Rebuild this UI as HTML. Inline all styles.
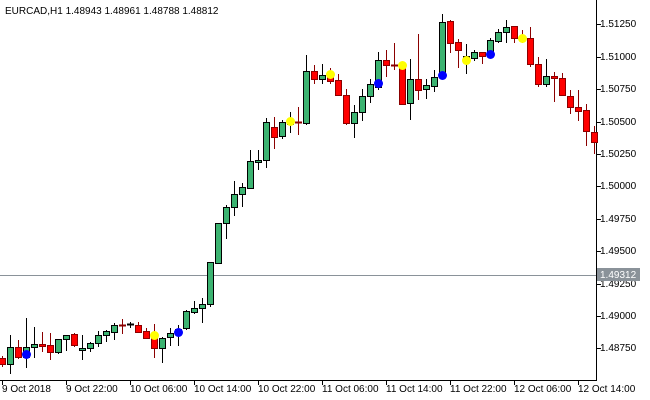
<!DOCTYPE html>
<html><head><meta charset="utf-8"><style>
body{margin:0;background:#fff;}
svg{display:block;font-family:"Liberation Sans",sans-serif;font-size:10px;}
</style></head><body>
<svg id="s" width="650" height="400" xmlns="http://www.w3.org/2000/svg" shape-rendering="crispEdges">
<rect width="650" height="400" fill="#fff"/>
<text x="5" y="14" fill="#000">EURCAD,H1  1.48943 1.48961 1.48788 1.48812</text>
<line x1="596.5" y1="0" x2="596.5" y2="380" stroke="#000"/>
<line x1="0" y1="380.5" x2="597" y2="380.5" stroke="#000"/>
<line x1="0" y1="275.5" x2="596" y2="275.5" stroke="#8a9299"/>
<g id="c"></g>
<g fill="#000">
<text x="600" y="27">1.51250</text>
<text x="600" y="60">1.51000</text>
<text x="600" y="92">1.50750</text>
<text x="600" y="125">1.50500</text>
<text x="600" y="157">1.50250</text>
<text x="600" y="189">1.50000</text>
<text x="600" y="222">1.49750</text>
<text x="600" y="254">1.49500</text>
<text x="600" y="287">1.49250</text>
<text x="600" y="319">1.49000</text>
<text x="600" y="351">1.48750</text>
</g>
<g stroke="#000">
<line x1="597" y1="24.5" x2="601" y2="24.5"/><line x1="597" y1="57.5" x2="601" y2="57.5"/>
<line x1="597" y1="89.5" x2="601" y2="89.5"/><line x1="597" y1="122.5" x2="601" y2="122.5"/>
<line x1="597" y1="154.5" x2="601" y2="154.5"/><line x1="597" y1="186.5" x2="601" y2="186.5"/>
<line x1="597" y1="219.5" x2="601" y2="219.5"/><line x1="597" y1="251.5" x2="601" y2="251.5"/>
<line x1="597" y1="284.5" x2="601" y2="284.5"/><line x1="597" y1="316.5" x2="601" y2="316.5"/>
<line x1="597" y1="348.5" x2="601" y2="348.5"/>
</g>
<rect x="597" y="268" width="43" height="13" fill="#8a9299"/>
<text x="600" y="278" fill="#fff">1.49312</text>
<g stroke="#000">
<line x1="2.5" y1="381" x2="2.5" y2="385"/><line x1="66.5" y1="381" x2="66.5" y2="385"/>
<line x1="130.5" y1="381" x2="130.5" y2="385"/><line x1="194.5" y1="381" x2="194.5" y2="385"/>
<line x1="258.5" y1="381" x2="258.5" y2="385"/><line x1="322.5" y1="381" x2="322.5" y2="385"/>
<line x1="386.5" y1="381" x2="386.5" y2="385"/><line x1="450.5" y1="381" x2="450.5" y2="385"/>
<line x1="514.5" y1="381" x2="514.5" y2="385"/><line x1="578.5" y1="381" x2="578.5" y2="385"/>
</g>
<g fill="#000">
<text x="2" y="392">9 Oct 2018</text>
<text x="66" y="392">9 Oct 22:00</text>
<text x="130" y="392">10 Oct 06:00</text>
<text x="194" y="392">10 Oct 14:00</text>
<text x="258" y="392">10 Oct 22:00</text>
<text x="322" y="392">11 Oct 06:00</text>
<text x="386" y="392">11 Oct 14:00</text>
<text x="450" y="392">11 Oct 22:00</text>
<text x="514" y="392">12 Oct 06:00</text>
<text x="578" y="392">12 Oct 14:00</text>
</g>
<g id="d"></g>
</svg>
<script>
var D=[
[2,358,364,356,366,'r'],[10,364,347,335,373,'g'],[18,347,357,340,358,'r'],[26,357,347,318,367,'g'],
[34,347,344,327,357,'g'],[42,344,346,332,351,'r'],[50,345,352,333,359,'r'],[58,352,339,339,353,'g'],
[66,339,335,335,350,'g'],[74,334,345,333,346,'r'],[82,350,348,335,359,'g'],[90,348,343,342,351,'g'],
[98,343,335,331,346,'g'],[106,335,331,330,341,'g'],[114,332,325,323,339,'g'],[122,325,325,319,333,'r'],
[130,324,324,322,327,'k'],[138,325,332,322,332,'r'],[146,331,338,328,338,'r'],[154,338,348,324,357,'r'],
[162,348,338,337,362,'g'],[170,337,333,328,345,'g'],[178,333,329,325,345,'g'],[186,328,311,310,329,'g'],
[194,312,308,301,313,'g'],[202,308,304,298,322,'g'],[210,304,262,262,306,'g'],[218,263,223,223,263,'g'],
[226,223,207,205,238,'g'],[234,207,194,181,215,'g'],[242,194,187,183,206,'g'],[250,188,161,150,188,'g'],
[258,162,160,150,169,'g'],[266,160,122,118,167,'g'],[274,127,137,117,148,'r'],[282,136,122,120,138,'g'],
[290,124,119,112,132,'g'],[298,122,122,107,134,'r'],[306,123,71,55,124,'g'],[314,71,79,65,83,'r'],
[322,79,75,64,83,'g'],[330,75,81,68,83,'r'],[338,80,95,74,95,'r'],[346,95,123,89,124,'r'],
[354,123,112,105,137,'g'],[362,112,96,89,120,'g'],[370,96,84,79,102,'g'],[378,87,60,52,89,'g'],
[386,60,65,50,76,'r'],[394,65,65,43,69,'r'],[402,65,104,62,104,'r'],[410,103,79,59,119,'g'],
[418,79,90,34,99,'r'],[426,89,85,79,98,'g'],[434,86,77,70,91,'g'],[442,73,22,14,73,'g'],
[450,21,43,20,52,'r'],[458,42,50,39,67,'r'],[466,62,56,44,73,'g'],[474,58,52,50,60,'g'],
[482,52,56,52,63,'r'],[490,53,40,38,54,'g'],[498,41,32,29,42,'g'],[506,32,27,20,42,'g'],
[514,26,38,26,42,'r'],[522,36,39,30,42,'r'],[530,38,64,27,66,'r'],[538,64,84,57,86,'r'],
[546,84,76,59,86,'g'],[554,76,78,72,101,'r'],[562,78,95,73,95,'r'],[570,96,107,90,113,'r'],
[578,107,111,90,120,'r'],[586,110,131,104,145,'r'],[594,132,142,126,153,'r']];
var NS='http://www.w3.org/2000/svg',g=document.getElementById('c');
function el(t,a,p){var e=document.createElementNS(NS,t);for(var k in a)e.setAttribute(k,a[k]);p.appendChild(e);return e;}
D.forEach(function(d){
 var x=d[0],o=d[1],c=d[2],h=d[3],l=d[4],t=d[5];
 var wc=t=='r'?'#8b0000':'#000', fill=t=='r'?'#ff0000':'#3cb371', sc=t=='r'?'#8b0000':'#000';
 el('line',{x1:x+.5,y1:h,x2:x+.5,y2:l+1,stroke:wc},g);
 var top=Math.min(o,c),bot=Math.max(o,c);
 if(bot-top<2){el('line',{x1:x-3,y1:top+.5,x2:x+4,y2:top+.5,stroke:wc,'stroke-width':2},g);}
 else el('rect',{x:x-2.5,y:top+.5,width:6,height:bot-top,fill:fill,stroke:sc},g);
});
var dg=document.getElementById('d');
[[26,354,'#0000ff'],[154,335,'#ffff00'],[178,332,'#0000ff'],[290,121,'#ffff00'],[330,74,'#ffff00'],
[378,83,'#0000ff'],[402,65,'#ffff00'],[442,75,'#0000ff'],[466,60,'#ffff00'],[490,54,'#0000ff'],[522,38,'#ffff00']]
.forEach(function(p){el('circle',{cx:p[0]+.5,cy:p[1]+.5,r:4.5,fill:p[2],'shape-rendering':'auto'},dg);});
</script>
</body></html>
